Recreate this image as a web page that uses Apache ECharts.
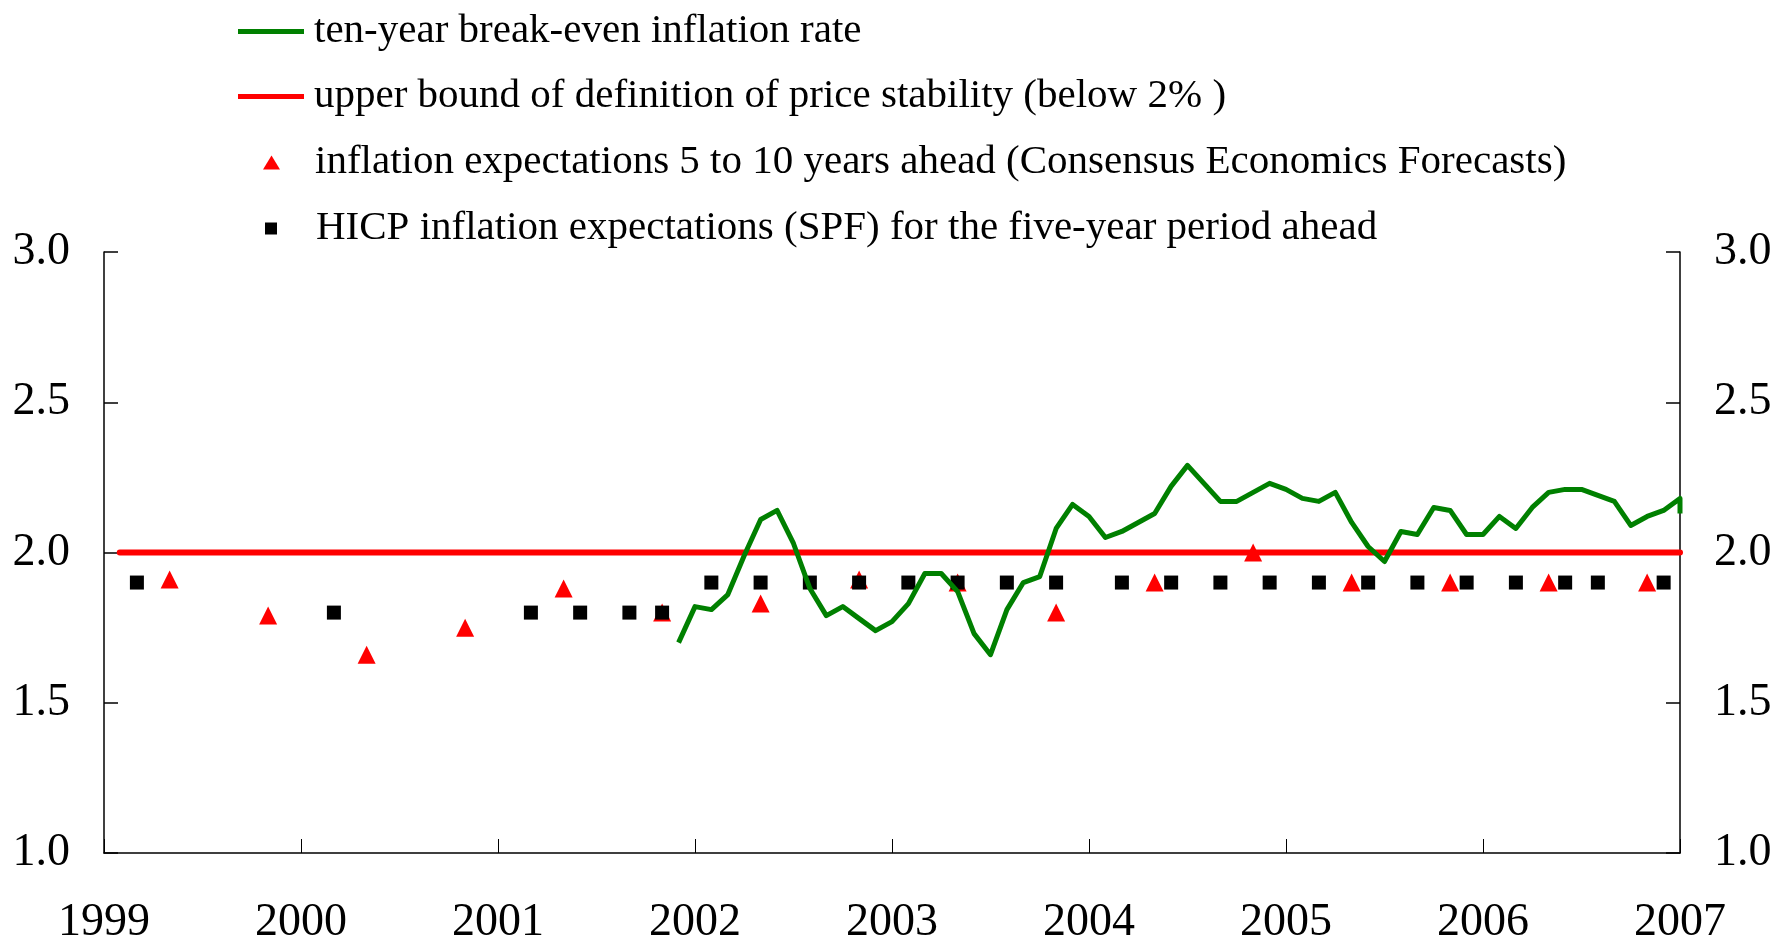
<!DOCTYPE html>
<html><head><meta charset="utf-8">
<script src="https://cdn.jsdelivr.net/npm/echarts@6/dist/echarts.min.js"></script>
<style>html,body{margin:0;padding:0;background:#fff}#c{width:1773px;height:938px}</style>
</head><body><div id="c"></div>
<script>
// ---- data ----
const xTicks = [1999, 2000, 2001, 2002, 2003, 2004, 2005, 2006, 2007];
const yTicks = [1.0, 1.5, 2.0, 2.5, 3.0];

const seriesNames = [
  'ten-year break-even inflation rate',
  'upper bound of definition of price stability (below 2% )',
  'inflation expectations 5 to 10 years ahead (Consensus Economics Forecasts)',
  'HICP inflation expectations (SPF) for the five-year period ahead'
];

// monthly observations, first one = December 2001
const breakEvenStartYear = 2001;
const breakEvenStartMonth = 12;
const breakEvenValues = [
  1.70,
  1.82, 1.81, 1.86, 1.99, 2.11, 2.14, 2.03, 1.88, 1.79, 1.82, 1.78, 1.74,
  1.77, 1.83, 1.93, 1.93, 1.87, 1.73, 1.66, 1.81, 1.90, 1.92, 2.08, 2.16,
  2.12, 2.05, 2.07, 2.10, 2.13, 2.22, 2.29, 2.23, 2.17, 2.17, 2.20, 2.23,
  2.21, 2.18, 2.17, 2.20, 2.10, 2.02, 1.97, 2.07, 2.06, 2.15, 2.14, 2.06,
  2.06, 2.12, 2.08, 2.15, 2.20, 2.21, 2.21, 2.19, 2.17, 2.09, 2.12, 2.14,
  2.18
];
const breakEvenLastValue = 2.13; // final observation, same date as the previous one

const upperBoundX = [1999.08, 2007.0];
const upperBoundY = [2.0, 2.0];

const consensusX = [1999.333, 1999.833, 2000.333, 2000.833, 2001.333, 2001.833, 2002.333, 2002.833,
                    2003.333, 2003.833, 2004.333, 2004.833, 2005.333, 2005.833, 2006.333, 2006.833];
const consensusY = [1.91, 1.79, 1.66, 1.75, 1.88, 1.80, 1.83, 1.91,
                    1.90, 1.80, 1.90, 2.00, 1.90, 1.90, 1.90, 1.90];

const spfX = [1999.167, 2000.167, 2001.167, 2001.417, 2001.667, 2001.833,
              2002.083, 2002.333, 2002.583, 2002.833, 2003.083, 2003.333, 2003.583, 2003.833,
              2004.167, 2004.417, 2004.667, 2004.917, 2005.167, 2005.417, 2005.667, 2005.917,
              2006.167, 2006.417, 2006.583, 2006.917];
const spfY = [1.9, 1.8, 1.8, 1.8, 1.8, 1.8,
              1.9, 1.9, 1.9, 1.9, 1.9, 1.9, 1.9, 1.9,
              1.9, 1.9, 1.9, 1.9, 1.9, 1.9, 1.9, 1.9,
              1.9, 1.9, 1.9, 1.9];

// ---- build ----
const breakEvenData = breakEvenValues.map((v, i) =>
  [breakEvenStartYear + (breakEvenStartMonth - 1 + i) / 12, v]);
breakEvenData.push([breakEvenData[breakEvenData.length - 1][0], breakEvenLastValue]);
const zip = (xs, ys) => xs.map((x, i) => [x, ys[i]]);

const FONT = 'Liberation Serif';
const legendText = { fontFamily: FONT, fontSize: 41, color: '#000' };

const yAxisBase = (pos) => ({
  type: 'value', position: pos, min: yTicks[0], max: yTicks[yTicks.length - 1], interval: 0.5,
  axisLine: { show: true, lineStyle: { color: '#000', width: 1.5 } },
  axisTick: { show: true, inside: true, length: 14, lineStyle: { color: '#000', width: 1.5 } },
  axisLabel: { fontFamily: FONT, fontSize: 46, color: '#000', margin: 34,
               formatter: v => v.toFixed(1) },
  splitLine: { show: false }
});

const option = {
  animation: false,
  backgroundColor: '#fff',
  grid: { left: 104, right: 93, top: 252, bottom: 85, containLabel: false, outerBoundsMode: 'none' },
  legend: [
    { orient: 'vertical', left: 238, top: 11, padding: 0, itemWidth: 66, itemHeight: 5, itemGap: 24,
      selectedMode: false, textStyle: Object.assign({ padding: [0, 0, 0, 5] }, legendText),
      data: [{ name: seriesNames[0], icon: 'rect' }, { name: seriesNames[1], icon: 'rect' }] },
    { orient: 'vertical', left: 263, top: 142, padding: 0, itemWidth: 17, itemHeight: 14,
      selectedMode: false, textStyle: Object.assign({ padding: [0, 0, 0, 30] }, legendText),
      data: [seriesNames[2]] },
    { orient: 'vertical', left: 265, top: 208, padding: 0, itemWidth: 12, itemHeight: 12,
      selectedMode: false, textStyle: Object.assign({ padding: [0, 0, 0, 34] }, legendText),
      data: [seriesNames[3]] }
  ],
  xAxis: {
    type: 'value', min: xTicks[0], max: xTicks[xTicks.length - 1], interval: 1,
    axisLine: { show: true, lineStyle: { color: '#000', width: 1.5 } },
    axisTick: { show: true, inside: true, length: 14, lineStyle: { color: '#000', width: 1 } },
    axisLabel: { fontFamily: FONT, fontSize: 46, color: '#000', margin: 47,
                 showMinLabel: true, showMaxLabel: true, hideOverlap: false,
                 formatter: v => String(Math.round(v)) },
    splitLine: { show: false }
  },
  yAxis: [yAxisBase('left'), yAxisBase('right')],
  series: [
    { name: seriesNames[1], type: 'line', data: zip(upperBoundX, upperBoundY), symbol: 'none',
      clip: false, z: 2,
      lineStyle: { color: '#ff0000', width: 6, cap: 'round' }, itemStyle: { color: '#ff0000' } },
    { name: seriesNames[2], type: 'scatter', data: zip(consensusX, consensusY), symbol: 'triangle',
      symbolSize: [18, 18], z: 3, itemStyle: { color: '#ff0000', opacity: 1 } },
    { name: seriesNames[3], type: 'scatter', data: zip(spfX, spfY), symbol: 'rect',
      symbolSize: 14, z: 4, itemStyle: { color: '#000000', opacity: 1 } },
    { name: seriesNames[0], type: 'line', data: breakEvenData, symbol: 'none', showSymbol: false,
      clip: false, z: 5,
      lineStyle: { color: '#008000', width: 5, join: 'round' }, itemStyle: { color: '#008000' } }
  ]
};
echarts.init(document.getElementById('c')).setOption(option);
</script>
</body></html>
